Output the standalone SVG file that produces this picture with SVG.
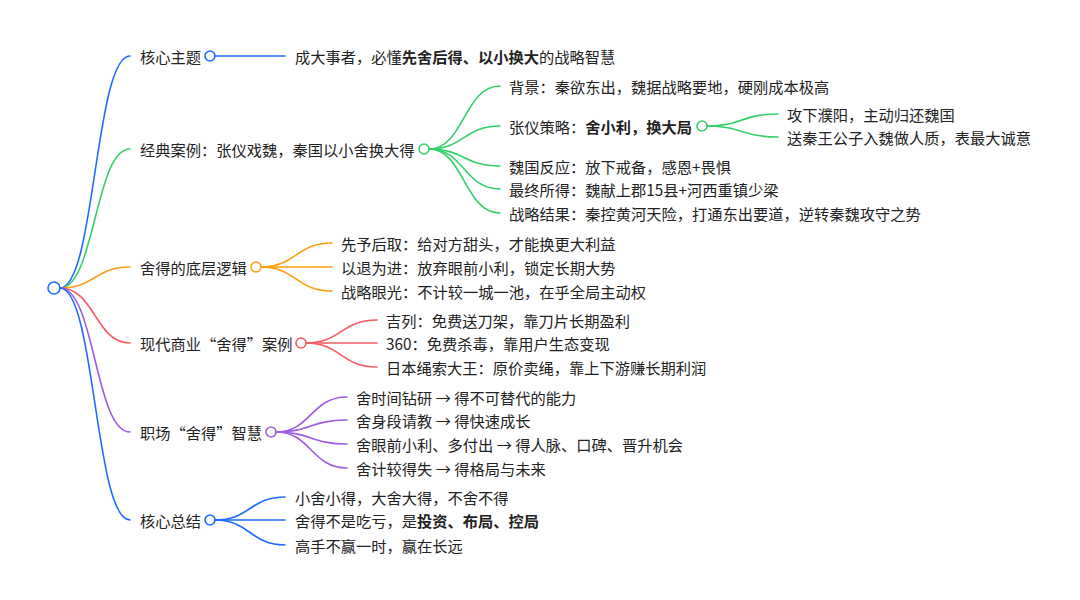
<svg xmlns="http://www.w3.org/2000/svg" width="1080" height="600" viewBox="0 0 1080 600">
<style>
text{font-family:"Noto Sans CJK SC","Noto Sans",sans-serif;font-size:15.25px;fill:#222;dominant-baseline:central}
.b{font-weight:bold}
path{fill:none;stroke-width:1.6;stroke-linecap:round}
circle{fill:#fff;stroke-width:1.6}
.blue{stroke:#1f6bff}.green{stroke:#35cf6a}.orange{stroke:#ff9c12}.red{stroke:#f75b62}.purple{stroke:#9d5ce6}
</style>
<rect width="1080" height="600" fill="#fff"/>
<g id="connectors">
<path class="blue" d="M60 288 C95 288 95 56 130 56"/>
<path class="green" d="M60 288 C95 288 95 149 130 149"/>
<path class="orange" d="M60 288 C95 288 95 267 130 267"/>
<path class="red" d="M60 288 C95 288 95 343 130 343"/>
<path class="purple" d="M60 288 C95 288 95 432 130 432"/>
<path class="blue" d="M60 288 C95 288 95 520 130 520"/>
<path class="blue" d="M215 56 L285 56"/>
<path class="green" d="M429 149 C464 149 464 86 500 86"/>
<path class="green" d="M429 149 C464 149 464 126 500 126"/>
<path class="green" d="M429 149 C464 149 464 166 500 166"/>
<path class="green" d="M429 149 C464 149 464 189 500 189"/>
<path class="green" d="M429 149 C464 149 464 213 500 213"/>
<path class="green" d="M707 126 C742 126 742 114 778 114"/>
<path class="green" d="M707 126 C742 126 742 137 778 137"/>
<path class="orange" d="M261 267 C296 267 296 243 332 243"/>
<path class="orange" d="M261 267 L332 267"/>
<path class="orange" d="M261 267 C296 267 296 291 332 291"/>
<path class="red" d="M306 343 C341 343 341 320 377 320"/>
<path class="red" d="M306 343 L377 343"/>
<path class="red" d="M306 343 C341 343 341 367 377 367"/>
<path class="purple" d="M276 432 C311 432 311 397 347 397"/>
<path class="purple" d="M276 432 C311 432 311 420 347 420"/>
<path class="purple" d="M276 432 C311 432 311 444 347 444"/>
<path class="purple" d="M276 432 C311 432 311 468 347 468"/>
<path class="blue" d="M215 520 C250 520 250 497 285 497"/>
<path class="blue" d="M215 520 L285 520"/>
<path class="blue" d="M215 520 C250 520 250 545 285 545"/>
</g>
<g id="root"><circle class="blue" cx="54" cy="288" r="6"/></g>
<g id="n1"><text x="140" y="56">核心主题</text><circle class="blue" cx="210" cy="56" r="5"/></g>
<g id="n1a"><text x="295" y="56">成大事者，必懂<tspan class="b">先舍后得、以小换大</tspan>的战略智慧</text></g>
<g id="n2"><text x="140" y="149">经典案例：张仪戏魏，秦国以小舍换大得</text><circle class="green" cx="424" cy="149" r="5"/></g>
<g id="n2a"><text x="509" y="86">背景：秦欲东出，魏据战略要地，硬刚成本极高</text></g>
<g id="n2b"><text x="509" y="126">张仪策略：<tspan class="b">舍小利，换大局</tspan></text><circle class="green" cx="702" cy="126" r="5"/></g>
<g id="n2b1"><text x="787" y="114">攻下濮阳，主动归还魏国</text></g>
<g id="n2b2"><text x="787" y="137">送秦王公子入魏做人质，表最大诚意</text></g>
<g id="n2c"><text x="509" y="166">魏国反应：放下戒备，感恩+畏惧</text></g>
<g id="n2d"><text x="509" y="189">最终所得：魏献上郡15县+河西重镇少梁</text></g>
<g id="n2e"><text x="509" y="213">战略结果：秦控黄河天险，打通东出要道，逆转秦魏攻守之势</text></g>
<g id="n3"><text x="140" y="267">舍得的底层逻辑</text><circle class="orange" cx="256" cy="267" r="5"/></g>
<g id="n3a"><text x="341" y="243">先予后取：给对方甜头，才能换更大利益</text></g>
<g id="n3b"><text x="341" y="267">以退为进：放弃眼前小利，锁定长期大势</text></g>
<g id="n3c"><text x="341" y="291">战略眼光：不计较一城一池，在乎全局主动权</text></g>
<g id="n4"><text x="140" y="343">现代商业“舍得”案例</text><circle class="red" cx="301" cy="343" r="5"/></g>
<g id="n4a"><text x="386" y="320">吉列：免费送刀架，靠刀片长期盈利</text></g>
<g id="n4b"><text x="386" y="343">360：免费杀毒，靠用户生态变现</text></g>
<g id="n4c"><text x="386" y="367">日本绳索大王：原价卖绳，靠上下游赚长期利润</text></g>
<g id="n5"><text x="140" y="432">职场“舍得”智慧</text><circle class="purple" cx="271" cy="432" r="5"/></g>
<g id="n5a"><text x="356" y="397">舍时间钻研 → 得不可替代的能力</text></g>
<g id="n5b"><text x="356" y="420">舍身段请教 → 得快速成长</text></g>
<g id="n5c"><text x="356" y="444">舍眼前小利、多付出 → 得人脉、口碑、晋升机会</text></g>
<g id="n5d"><text x="356" y="468">舍计较得失 → 得格局与未来</text></g>
<g id="n6"><text x="140" y="520">核心总结</text><circle class="blue" cx="210" cy="520" r="5"/></g>
<g id="n6a"><text x="295" y="497">小舍小得，大舍大得，不舍不得</text></g>
<g id="n6b"><text x="295" y="520">舍得不是吃亏，是<tspan class="b">投资、布局、控局</tspan></text></g>
<g id="n6c"><text x="295" y="545">高手不赢一时，赢在长远</text></g>
</svg>
